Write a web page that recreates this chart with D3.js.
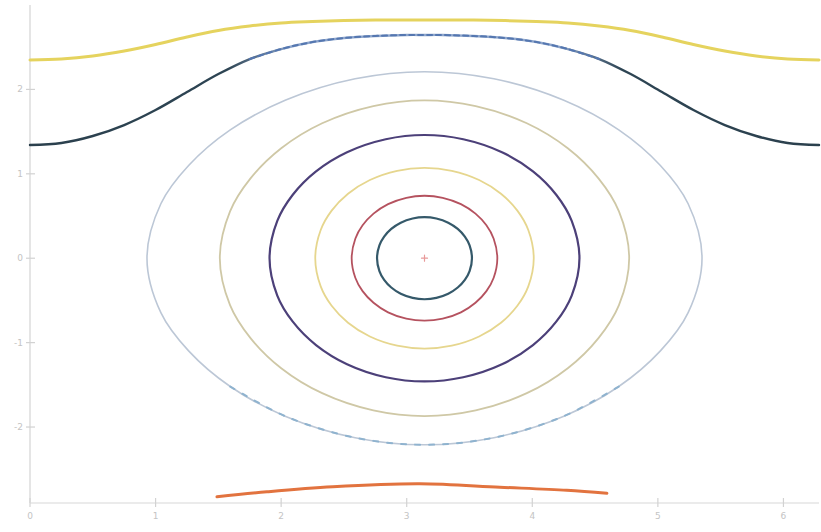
<!DOCTYPE html>
<html>
<head>
<meta charset="utf-8">
<script src="https://cdn.jsdelivr.net/npm/d3@7"></script>
<style>
  html, body { margin: 0; padding: 0; background: #fff; }
  svg { display: block; }
  .tick-label { font-family: "DejaVu Sans", sans-serif; font-size: 9px; fill: #c4c4c4; }
</style>
</head>
<body>
<svg id="chart" width="821" height="532"></svg>
<script>
// Phase portrait: angle q on x, momentum p on y.
const xTicks = [0, 1, 2, 3, 4, 5, 6];
const yTicks = [-2, -1, 0, 1, 2];

// Closed (librating) orbits around the centre (q = π, p = 0).
// Each orbit: half-width in q, and p along the upper half at fractions of that half-width.
const profileT = [0, 0.25, 0.5, 0.7, 0.85, 0.95, 1];
const orbitHalfWidth = [0.378, 0.58, 0.87, 1.234, 1.63, 2.21];
const orbitP = [
  [0.486, 0.470, 0.421, 0.347, 0.256, 0.152, 0],
  [0.74, 0.716, 0.641, 0.528, 0.390, 0.231, 0],
  [1.07, 1.036, 0.927, 0.764, 0.564, 0.334, 0],
  [1.46, 1.410, 1.256, 1.029, 0.752, 0.442, 0],
  [1.87, 1.803, 1.599, 1.303, 0.946, 0.555, 0],
  [2.21, 2.126, 1.874, 1.520, 1.098, 0.645, 0]
];
const orbitColor = ["#35596a", "#b5525f", "#e6d68e", "#4c4079", "#cfc8a6", "#bcc7d6"];
const orbitWidth = [2.2, 1.8, 1.8, 2.2, 1.8, 1.6];

// Rotating orbits above the separatrix: p at q from 0 to π (mirrored to 2π).
const rotQ = [0, 0.25, 0.5, 0.75, 1, 1.25, 1.5, 1.75, 2, 2.25, 2.5, 2.75, 3, Math.PI];
const darkRotP = [1.341, 1.365, 1.448, 1.578, 1.756, 1.969, 2.182, 2.360, 2.478, 2.561, 2.609, 2.633, 2.645, 2.645];
const yellowRotP = [2.348, 2.360, 2.396, 2.455, 2.532, 2.621, 2.698, 2.751, 2.787, 2.804, 2.816, 2.822, 2.822, 2.822];

// Lower rotating trajectory segment (negative momentum).
const lowerQ = [1.489, 1.887, 2.412, 3.105, 3.742, 4.275, 4.594];
const lowerP = [-2.826, -2.767, -2.707, -2.672, -2.713, -2.749, -2.785];

const svg = d3.select("#chart");
const x = d3.scaleLinear().domain([0, 2 * Math.PI]).range([30, 819]);
const y = d3.scaleLinear().domain([-2.9, 3.0]).range([503, 5]);

// Stroke gradient for the dark rotating orbit: dark flanks, lighter crest
const defs = svg.append("defs");
const grad = defs.append("linearGradient").attr("id", "crest")
  .attr("gradientUnits", "userSpaceOnUse")
  .attr("x1", x(0)).attr("x2", x(2 * Math.PI)).attr("y1", 0).attr("y2", 0);
[[0, "#2b404d"], [0.25, "#2d4453"], [0.33, "#8ea6cc"], [0.67, "#8ea6cc"], [0.75, "#2d4453"], [1, "#2b404d"]]
  .forEach(([o, c]) => grad.append("stop").attr("offset", o).attr("stop-color", c));

// Axes
const axis = svg.append("g");
axis.append("line").attr("x1", x(0)).attr("x2", x(0)).attr("y1", y(3.0)).attr("y2", y(-2.9))
  .attr("stroke", "#dcdcdc").attr("stroke-width", 1.5);
axis.append("line").attr("x1", x(0)).attr("x2", x(2 * Math.PI)).attr("y1", y(-2.9)).attr("y2", y(-2.9))
  .attr("stroke", "#e4e4e4").attr("stroke-width", 1.5);

xTicks.forEach(v => {
  axis.append("line").attr("x1", x(v)).attr("x2", x(v)).attr("y1", y(-2.9) - 5).attr("y2", y(-2.9) + 4)
    .attr("stroke", "#d2d2d2").attr("stroke-width", 1.2);
  axis.append("text").attr("class", "tick-label").attr("x", x(v)).attr("y", y(-2.9) + 16)
    .attr("text-anchor", "middle").text(v);
});
yTicks.forEach(v => {
  axis.append("line").attr("x1", x(0) - 4).attr("x2", x(0) + 5).attr("y1", y(v)).attr("y2", y(v))
    .attr("stroke", "#d2d2d2").attr("stroke-width", 1.2);
  axis.append("text").attr("class", "tick-label").attr("x", x(0) - 7).attr("y", y(v) + 3)
    .attr("text-anchor", "end").text(v);
});

const plot = svg.append("g").attr("fill", "none").attr("stroke-linecap", "round");
const closedLine = d3.line().x(d => x(d[0])).y(d => y(d[1])).curve(d3.curveCatmullRomClosed.alpha(0.5));
const openLine = d3.line().x(d => x(d[0])).y(d => y(d[1])).curve(d3.curveCatmullRom.alpha(0.5));

// Ring of points for one closed orbit
function ring(i) {
  const c = Math.PI, h = orbitHalfWidth[i], P = orbitP[i];
  const pts = [];
  for (let k = profileT.length - 1; k >= 0; k--) pts.push([c - profileT[k] * h, P[k]]);
  for (let k = 1; k < profileT.length; k++) pts.push([c + profileT[k] * h, P[k]]);
  for (let k = profileT.length - 2; k >= 0; k--) pts.push([c + profileT[k] * h, -P[k]]);
  for (let k = 1; k < profileT.length - 1; k++) pts.push([c - profileT[k] * h, -P[k]]);
  return pts;
}

orbitHalfWidth.forEach((h, i) => {
  plot.append("path").attr("d", closedLine(ring(i)))
    .attr("stroke", orbitColor[i]).attr("stroke-width", orbitWidth[i]);
});

// Dashed lower arc on the outermost orbit
{
  const i = 5, c = Math.PI, h = orbitHalfWidth[i], P = orbitP[i];
  const pts = [];
  for (let k = 3; k >= 0; k--) pts.push([c + profileT[k] * h, -P[k]]);
  for (let k = 1; k <= 3; k++) pts.push([c - profileT[k] * h, -P[k]]);
  plot.append("path").attr("d", openLine(pts))
    .attr("stroke", "#8fb3cf").attr("stroke-width", 2).attr("stroke-dasharray", "5,9");
}

// Mirror a half-period profile onto [0, 2π]
function fullRotation(ps) {
  const pts = rotQ.map((q, k) => [q, ps[k]]);
  for (let k = rotQ.length - 2; k >= 0; k--) pts.push([2 * Math.PI - rotQ[k], ps[k]]);
  return pts;
}

// Upper yellow rotating orbit
plot.append("path").attr("d", openLine(fullRotation(yellowRotP)))
  .attr("stroke", "#e5d35e").attr("stroke-width", 3);

// Dark rotating orbit: solid flanks fading into a dashed crest
{
  const pts = fullRotation(darkRotP);
  const qa = 1.75, qb = 2 * Math.PI - 1.75;
  const mid = pts.filter(d => d[0] >= qa - 1e-9 && d[0] <= qb + 1e-9);
  plot.append("path").attr("d", openLine(pts)).attr("stroke", "url(#crest)").attr("stroke-width", 2.4);
  plot.append("path").attr("d", openLine(mid)).attr("stroke", "#5577b0").attr("stroke-width", 2)
    .attr("stroke-dasharray", "5,4");
}

// Lower orange trajectory
plot.append("path").attr("d", openLine(lowerQ.map((q, k) => [q, lowerP[k]])))
  .attr("stroke", "#e2733f").attr("stroke-width", 3);

// Equilibrium marker at the centre
const cx = x(Math.PI), cy = y(0);
plot.append("path").attr("d", `M${cx - 3},${cy}H${cx + 3}M${cx},${cy - 3}V${cy + 3}`)
  .attr("stroke", "#e89a9a").attr("stroke-width", 1.2);
</script>
</body>
</html>
